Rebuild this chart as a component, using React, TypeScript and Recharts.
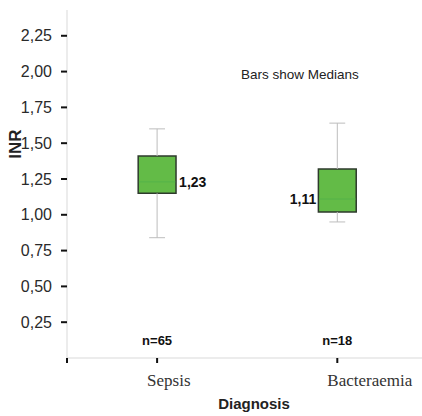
import { ComposedChart, XAxis, YAxis, Scatter, ReferenceArea, ReferenceLine } from "recharts"

// box plot values (INR by diagnosis)
const categories = ["Sepsis", "Bacteraemia"]
const counts = [65, 18]
const mins = [0.84, 0.95]
const q1s = [1.15, 1.02]
const medians = [1.23, 1.11]
const q3s = [1.41, 1.32]
const maxs = [1.6, 1.64]
const medianLabels = ["1,23", "1,11"]
const yTicks = [0.25, 0.5, 0.75, 1.0, 1.25, 1.5, 1.75, 2.0, 2.25]

const SANS = "'Liberation Sans', Arial, sans-serif"
const SERIF = "'Liberation Serif', 'Times New Roman', serif"
const BOX_HALF = 0.105
const CAP_HALF = 0.044
const N_LABEL_Y = 0.12

const xPos = categories.map((_, i) => i + 0.5)
const medianData = categories.map((c, i) => ({ x: xPos[i], y: medians[i], label: medianLabels[i], idx: i }))
const countData = categories.map((c, i) => ({ x: xPos[i], y: N_LABEL_Y, label: `n=${counts[i]}` }))

const XTick = (props: any) => {
  const { x, y, payload } = props
  const i = xPos.indexOf(payload.value)
  if (i < 0) return null
  return (
    <text x={x - 10} y={y + 21} textAnchor="start" fontFamily={SERIF} fontSize={17} fill="#333">
      {categories[i]}
    </text>
  )
}

const whisker = "#bdbdbd"

export default function App() {
  return (
    <div style={{ position: "absolute", left: 0, top: 0, width: 422, height: 416, background: "#fff" }}>
      <ComposedChart width={422} height={416} margin={{ top: 10, right: 0, left: 0, bottom: 0 }}>
        <XAxis
          type="number"
          dataKey="x"
          domain={[0, 1.97]}
          ticks={[0, ...xPos]}
          allowDataOverflow
          height={58}
          axisLine={{ stroke: "#d9d9d9" }}
          tickLine={{ stroke: "#111", strokeWidth: 2 }}
          tickSize={5}
          tick={<XTick />}
          label={{
            content: () => (
              <text x={254} y={409} textAnchor="middle" fontFamily={SANS} fontWeight="bold" fontSize={15} fill="#222">
                Diagnosis
              </text>
            ),
          }}
        />
        <YAxis
          type="number"
          dataKey="y"
          domain={[0, 2.43]}
          ticks={yTicks}
          allowDataOverflow
          width={67}
          axisLine={{ stroke: "#d9d9d9" }}
          tickLine={{ stroke: "#111", strokeWidth: 2 }}
          tickSize={6}
          tickMargin={9}
          tick={{ fontFamily: SANS, fontSize: 16, fill: "#2a2a2a" }}
          tickFormatter={(v: number) => v.toFixed(2).replace(".", ",")}
          label={{
            content: () => (
              <text
                x={21}
                y={144}
                transform="rotate(-90 21 144)"
                textAnchor="middle"
                fontFamily={SANS}
                fontWeight="bold"
                fontSize={17}
                fill="#222"
              >
                INR
              </text>
            ),
          }}
        />
        {categories.map((c, i) => (
          <ReferenceLine
            key={`wl${c}`}
            segment={[{ x: xPos[i], y: mins[i] }, { x: xPos[i], y: q1s[i] }]}
            stroke={whisker}
            strokeWidth={1}
          />
        ))}
        {categories.map((c, i) => (
          <ReferenceLine
            key={`wh${c}`}
            segment={[{ x: xPos[i], y: q3s[i] }, { x: xPos[i], y: maxs[i] }]}
            stroke={whisker}
            strokeWidth={1}
          />
        ))}
        {categories.map((c, i) => (
          <ReferenceLine
            key={`lo${c}`}
            segment={[{ x: xPos[i] - CAP_HALF, y: mins[i] }, { x: xPos[i] + CAP_HALF, y: mins[i] }]}
            stroke={whisker}
            strokeWidth={1}
          />
        ))}
        {categories.map((c, i) => (
          <ReferenceLine
            key={`hi${c}`}
            segment={[{ x: xPos[i] - CAP_HALF, y: maxs[i] }, { x: xPos[i] + CAP_HALF, y: maxs[i] }]}
            stroke={whisker}
            strokeWidth={1}
          />
        ))}
        {categories.map((c, i) => (
          <ReferenceArea
            key={`b${c}`}
            x1={xPos[i] - BOX_HALF}
            x2={xPos[i] + BOX_HALF}
            y1={q1s[i]}
            y2={q3s[i]}
            fill="#63bb47"
            fillOpacity={1}
            stroke="#2e3a2c"
            strokeWidth={1.5}
          />
        ))}
        {categories.map((c, i) => (
          <ReferenceLine
            key={`m${c}`}
            segment={[{ x: xPos[i] - BOX_HALF + 0.004, y: medians[i] }, { x: xPos[i] + BOX_HALF - 0.004, y: medians[i] }]}
            stroke="#55b34a"
            strokeWidth={1}
          />
        ))}
        <Scatter
          data={medianData}
          isAnimationActive={false}
          shape={(p: any) => {
            const right = p.payload.idx === 0
            return (
              <text
                x={right ? p.cx + 22 : p.cx - 21}
                y={p.cy}
                dy="0.36em"
                textAnchor={right ? "start" : "end"}
                fontFamily={SANS}
                fontWeight="bold"
                fontSize={14}
                fill="#111"
              >
                {p.payload.label}
              </text>
            )
          }}
        />
        <Scatter
          data={countData}
          isAnimationActive={false}
          shape={(p: any) => (
            <text x={p.cx} y={p.cy} dy="0.36em" textAnchor="middle" fontFamily={SANS} fontWeight="bold" fontSize={13} fill="#111">
              {p.payload.label}
            </text>
          )}
        />
      </ComposedChart>
      <div
        style={{
          position: "absolute",
          left: 241,
          top: 67,
          fontFamily: SANS,
          fontSize: 13.5,
          color: "#222",
          whiteSpace: "nowrap",
        }}
      >
        Bars show Medians
      </div>
    </div>
  )
}
